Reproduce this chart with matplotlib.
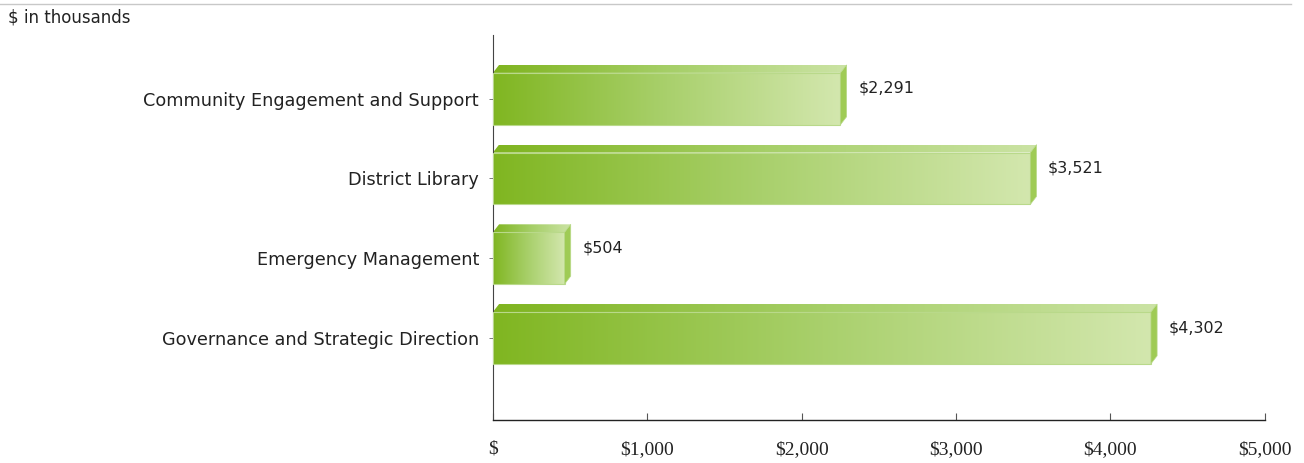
import matplotlib
matplotlib.use("Agg")
import matplotlib.pyplot as plt
import numpy as np
from matplotlib.patches import Polygon
from matplotlib.colors import LinearSegmentedColormap
from matplotlib.lines import Line2D

categories = ["Community Engagement and Support", "District Library",
              "Emergency Management", "Governance and Strategic Direction"]
values = [2291, 3521, 504, 4302]
xticks = [0, 1000, 2000, 3000, 4000, 5000]
xtick_labels = ["$", "$1,000", "$2,000", "$3,000", "$4,000", "$5,000"]

label_font = "DejaVu Sans"
tick_font = "Liberation Serif"

front_cmap = LinearSegmentedColormap.from_list("front", ["#80b621", "#a9d06c", "#d3e7ae"])
top_cmap = LinearSegmentedColormap.from_list("top", ["#7fb41f", "#a6cf68", "#cbe3a4"])
side_color = "#9fcb55"

fig = plt.figure(figsize=(13.04, 4.63), dpi=100)
ax = fig.add_axes([0.378, 0.0929, 0.592, 0.8315])

bar_h = 0.65
dx = 40      # depth of the 3d look in data units (x)
dy = 0.1     # depth in data units (y)
grad = np.linspace(0, 1, 256).reshape(1, -1)

for i, v in enumerate(values):
    y0 = i - bar_h / 2
    y1 = i + bar_h / 2
    xr = v - dx
    # front face
    front = Polygon([(0, y0), (xr, y0), (xr, y1), (0, y1)], closed=True,
                    facecolor="none", edgecolor="#b9d98a", lw=0.8, zorder=3)
    ax.add_patch(front)
    im = ax.imshow(grad, cmap=front_cmap, aspect="auto",
                   extent=[0, xr, y1, y0], zorder=2)
    im.set_clip_path(front)
    # top face
    top = Polygon([(0, y0), (xr, y0), (v, y0 - dy), (dx, y0 - dy)], closed=True,
                  facecolor="none", edgecolor="none", zorder=3)
    ax.add_patch(top)
    im2 = ax.imshow(grad, cmap=top_cmap, aspect="auto",
                    extent=[0, v, y0, y0 - dy], zorder=2)
    im2.set_clip_path(top)
    # side face
    ax.add_patch(Polygon([(xr, y0), (v, y0 - dy), (v, y1 - dy), (xr, y1)], closed=True,
                         facecolor=side_color, edgecolor="#b9d98a", lw=0.5, zorder=3))
    ax.text(v + 75, i - 0.13, "${:,}".format(v), ha="left", va="center",
            fontsize=11.5, family=label_font, color="#222222")

ax.set_xlim(0, 5000)
ax.set_ylim(4.03, -0.80)

ax.set_yticks(range(len(categories)))
ax.set_yticklabels(categories, family=label_font, fontsize=12.7, color="#222222")
ax.tick_params(axis="y", length=3, width=0.6, pad=7, color="#666666")

ax.set_xticks(xticks)
ax.set_xticklabels(xtick_labels, family=tick_font, fontsize=14, color="#222222")
ax.tick_params(axis="x", direction="in", length=5, width=0.8, pad=15, color="#555555")

for s in ["top", "right"]:
    ax.spines[s].set_visible(False)
ax.spines["left"].set_color("#444444")
ax.spines["left"].set_linewidth(0.8)
ax.spines["bottom"].set_color("#222222")
ax.spines["bottom"].set_linewidth(1.0)

fig.add_artist(Line2D([0, 0.99], [0.991, 0.991], transform=fig.transFigure,
                      color="#c8c8c8", lw=1))
fig.text(0.006, 0.962, "$ in thousands", ha="left", va="center",
         fontsize=12, family=label_font, color="#222222")

fig.savefig("out.png", dpi=100, facecolor="white")
